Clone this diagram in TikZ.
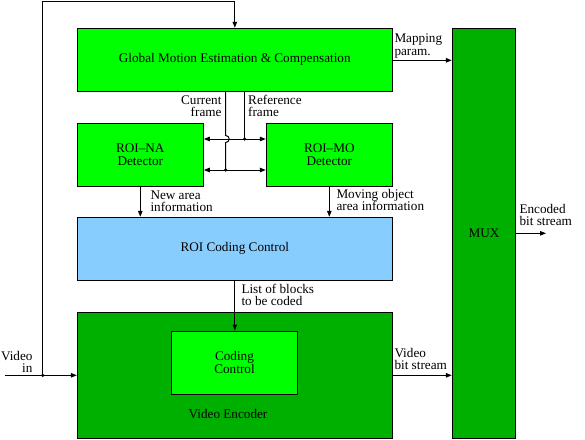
\documentclass[tikz,border=0pt]{standalone}
\usepackage{fontspec}
\setmainfont{Liberation Serif}
\usetikzlibrary{arrows.meta}
\definecolor{brightgreen}{HTML}{00FF00}
\definecolor{darkgreen}{HTML}{00B000}
\definecolor{ltblue}{HTML}{87CEFF}
\begin{document}
\begin{tikzpicture}[x=1pt,y=-1pt, line width=1pt,
  txt/.style={font=\fontsize{13.2}{12.5}\selectfont},
  box/.style={draw=black, line width=1pt, inner sep=0pt, align=center, txt},
  lbl/.style={inner sep=0pt, align=left, txt},
  arr/.style={-{Triangle[length=6pt,width=4.5pt]}},
  darr/.style={{Triangle[length=6pt,width=4.5pt]}-{Triangle[length=6pt,width=4.5pt]}},
  jdot/.style={circle, fill=black, inner sep=0pt, minimum size=3.5pt}]
\useasboundingbox (0,0) rectangle (585,439);

% boxes
\node[box, fill=brightgreen, minimum width=315pt, minimum height=62.7pt] (gme) at (234.8,59.65) {Global Motion Estimation \& Compensation};
\node[box, fill=brightgreen, minimum width=126pt, minimum height=62.7pt] (na) at (140.3,154.65) {ROI–NA\\Detector};
\node[box, fill=brightgreen, minimum width=126pt, minimum height=62.7pt] (mo) at (329.3,154.65) {ROI–MO\\Detector};
\node[box, fill=ltblue, minimum width=315pt, minimum height=62.7pt] (roi) at (234.8,248.65) {ROI Coding Control};
\node[box, fill=darkgreen, minimum width=315pt, minimum height=126pt] (venc) at (234.8,375.3) {};
\node[box, fill=brightgreen, minimum width=126.4pt, minimum height=63.3pt] (cc) at (234.5,362.65) {Coding\\Control};
\node[lbl] (venclbl) at (228,414) {Video Encoder};
\node[box, fill=darkgreen, minimum width=63.4pt, minimum height=410pt] (mux) at (484,233.3) {MUX};

% helper coordinates
\coordinate (cfx) at (225.7,0);
\coordinate (rfx) at (244.7,0);
\coordinate (hu) at (0,139);
\coordinate (hl) at (0,170);
\coordinate (mp) at (0,60.3);
\coordinate (j1) at (225.7,170);
\coordinate (j2) at (244.7,139);
\coordinate (jv) at (42.7,375.3);
\coordinate (vin) at (5,375.3);
\coordinate (tl) at (42.7,1);
\coordinate (out) at (546,233.3);

% connectors
\draw (cfx |- gme.south) -- (225.7,135.5) arc[start angle=-90, end angle=90, radius=3.5] -- (j1);
\draw (rfx |- gme.south) -- (j2);
\draw[darr] (na.east |- hu) -- (mo.west |- hu);
\draw[darr] (na.east |- hl) -- (mo.west |- hl);
\node[jdot] at (j1) {};
\node[jdot] at (j2) {};
\draw[arr] (gme.east |- mp) -- (mux.west |- mp);
\draw[arr] (na.south) -- (na.south |- roi.north);
\draw[arr] (mo.south) -- (mo.south |- roi.north);
\draw[arr] (roi.south) -- (roi.south |- cc.north);
\draw[arr] (venc.east) -- (mux.west |- venc.east);
\draw[arr] (mux.east) -- (out);
\draw[arr] (vin) -- (venc.west);
\draw[arr] (jv) -- (tl) -- (tl -| gme.north) -- (gme.north);
\node[jdot] at (jv) {};

% labels
\node[lbl, anchor=east, align=right] (cflbl) at (222,106) {Current\\frame};
\node[lbl, anchor=west] (rflbl) at (247.7,106) {Reference\\frame};
\node[lbl, anchor=west] (nalbl) at (150,201) {New area\\information};
\node[lbl, anchor=west] (molbl) at (336,200) {Moving object\\area information};
\node[lbl, anchor=west] (mplbl) at (394,46) {Mapping\\param.};
\node[lbl, anchor=west] (eslbl) at (519,215) {Encoded\\bit stream};
\node[lbl, anchor=west] (lblbl) at (241,295) {List of blocks\\to be coded};
\node[lbl, anchor=west] (vblbl) at (394,359) {Video\\bit stream};
\node[lbl, anchor=east, align=right] (vilbl) at (33,362) {Video\\in};
\end{tikzpicture}
\end{document}
